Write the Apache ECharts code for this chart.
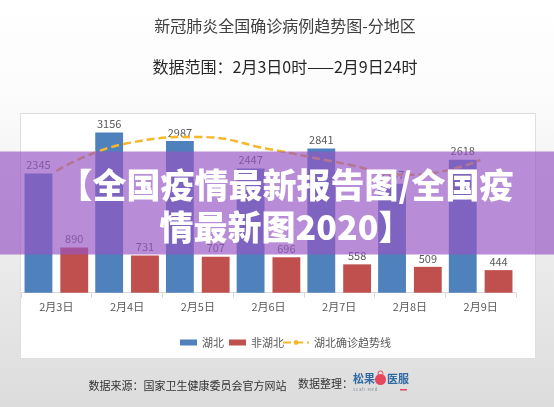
<!DOCTYPE html>
<html><head><meta charset="utf-8">
<script src="https://cdn.jsdelivr.net/npm/echarts/dist/echarts.min.js"></script>
<style>html,body{margin:0;padding:0;background:#fff}#c{width:554px;height:407px}</style>
</head><body><div id="c"></div>
<script>
const categories = ['2月3日','2月4日','2月5日','2月6日','2月7日','2月8日','2月9日'];
const hubei = [2345, 3156, 2987, 2447, 2841, 2147, 2618];
const nonHubei = [890, 731, 707, 696, 558, 509, 444];
const hubeiTrend = [2396, 2940, 3065, 2830, 2560, 2320, 2612];
const seriesNames = ['湖北', '非湖北', '湖北确诊趋势线'];
const titleText = '新冠肺炎全国确诊病例趋势图-分地区';
const subtitleText = '数据范围：2月3日0时——2月9日24时';
const bannerLines = ['【全国疫情最新报告图/全国疫', '情最新图2020】'];
const sourceText = '数据来源：国家卫生健康委员会官方网站';
const organizerText = '数据整理：';
const logoLeft = '松果';
const logoRight = '医服';
const logoSub = 'S c a h   M e d';

const FONT = '"Noto Sans CJK SC", "Microsoft YaHei", sans-serif';
const chart = echarts.init(document.getElementById('c'), null, {renderer: 'canvas'});

chart.setOption({
  animation: false,
  textStyle: {fontFamily: FONT},
  grid: {left: 21, right: 38, top: 114.9, bottom: 114.3, containLabel: false},
  legend: [
    {
      data: [seriesNames[0], seriesNames[1]],
      left: 175, top: 332,
      itemWidth: 17, itemHeight: 6, itemGap: 5,
      textStyle: {fontSize: 11, color: '#595959', fontFamily: FONT},
      icon: 'rect'
    },
    {
      data: [seriesNames[2]],
      left: 277, top: 332,
      itemWidth: 26, itemHeight: 6,
      textStyle: {fontSize: 11, color: '#595959', fontFamily: FONT}
    }
  ],
  xAxis: {
    type: 'category',
    data: categories,
    boundaryGap: true,
    axisLine: {lineStyle: {color: '#d9d9d9', width: 1}},
    axisTick: {show: true, length: 5, lineStyle: {color: '#d9d9d9'}},
    axisLabel: {fontSize: 11, color: '#595959', margin: 9, fontFamily: FONT}
  },
  yAxis: {
    type: 'value', min: 0, max: 3500, show: false,
    splitLine: {show: false}
  },
  series: [
    {
      name: seriesNames[0], type: 'bar', data: hubei,
      barGap: '28.6%', barCategoryGap: '10%',
      itemStyle: {color: '#4f81bd'},
      label: {show: true, position: 'top', distance: 3, fontSize: 11, color: '#595959', fontFamily: FONT}
    },
    {
      name: seriesNames[1], type: 'bar', data: nonHubei,
      itemStyle: {color: '#c0504d'},
      label: {show: true, position: 'top', distance: 3, fontSize: 11, color: '#595959', fontFamily: FONT}
    },
    {
      name: seriesNames[2], type: 'line', data: hubeiTrend,
      smooth: 0.5, symbol: 'none', z: 5,
      lineStyle: {color: '#f4b82b', width: 2.5, type: [8, 4]},
      itemStyle: {color: '#f4b82b'}
    }
  ],
  graphic: [
    {type: 'rect', z: -10, silent: true, shape: {x: 0, y: 0, width: 554, height: 407},
     style: {fill: new echarts.graphic.LinearGradient(0, 0, 0, 1, [
       {offset: 0, color: '#ffffff'}, {offset: 0.25, color: '#fbfbfb'}, {offset: 1, color: '#dcdcdc'}])}},
    {type: 'rect', z: -5, silent: true, shape: {x: 20.5, y: 113.5, width: 515, height: 245},
     style: {fill: '#ffffff', stroke: '#dedede', lineWidth: 1}},
    {type: 'text', z: 10, x: 285, y: 25.5, style: {text: titleText, font: '16px ' + FONT, fill: '#404040', align: 'center', verticalAlign: 'middle'}},
    {type: 'text', z: 10, x: 285, y: 66.5, style: {text: subtitleText, font: '16px ' + FONT, fill: '#262626', align: 'center', verticalAlign: 'middle'}},
    {type: 'rect', z: 100, silent: true, shape: {x: 0, y: 151.5, width: 554, height: 103},
     style: {fill: 'rgba(150,85,195,0.68)'}},
    {type: 'text', z: 101, x: 286, y: 185, style: {text: bannerLines[0], font: '900 34px ' + FONT, fill: '#ffffff', align: 'center', verticalAlign: 'middle', shadowColor: 'rgba(60,20,80,0.35)', shadowBlur: 2}},
    {type: 'text', z: 101, x: 286, y: 227, style: {text: bannerLines[1], font: '900 34px ' + FONT, fill: '#ffffff', align: 'center', verticalAlign: 'middle', shadowColor: 'rgba(60,20,80,0.35)', shadowBlur: 2}},
    {type: 'text', z: 10, x: 88.5, y: 385.5, style: {text: sourceText, font: '11px ' + FONT, fill: '#333333', align: 'left', verticalAlign: 'middle'}},
    {type: 'text', z: 10, x: 298, y: 384, style: {text: organizerText, font: '11px ' + FONT, fill: '#333333', align: 'left', verticalAlign: 'middle'}},
    {type: 'text', z: 10, x: 353, y: 379, style: {text: logoLeft, font: 'bold 11px ' + FONT, fill: '#2f6aa3', align: 'left', verticalAlign: 'middle'}},
    {type: 'circle', z: 10, shape: {cx: 380.5, cy: 379.5, r: 5.5}, style: {fill: '#e8455f'}},
    {type: 'circle', z: 10, shape: {cx: 380.5, cy: 373.5, r: 2.5}, style: {fill: 'none', stroke: '#e8455f', lineWidth: 1}},
    {type: 'text', z: 10, x: 387, y: 379, style: {text: logoRight, font: 'bold 11px ' + FONT, fill: '#2f6aa3', align: 'left', verticalAlign: 'middle'}},
    {type: 'text', z: 10, x: 353, y: 389.5, style: {text: logoSub, font: '4px ' + FONT, fill: '#7a8a99', align: 'left', verticalAlign: 'middle'}},
    {type: 'rect', z: 10, shape: {x: 400, y: 389, width: 7, height: 1.5}, style: {fill: '#e8455f'}}
  ]
});
</script></body></html>
